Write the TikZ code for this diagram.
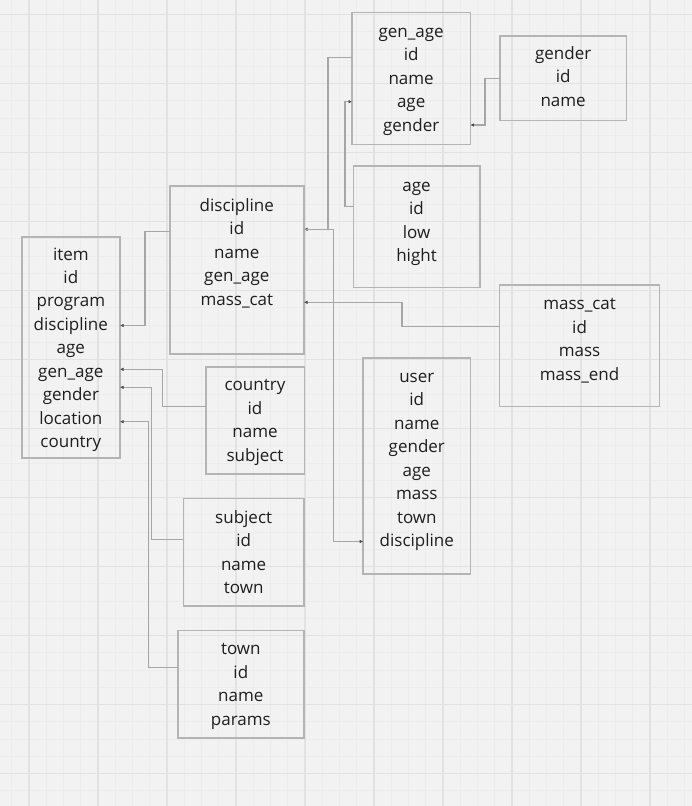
\documentclass[tikz,border=0pt]{standalone}
\usepackage{fontspec}
\setmainfont{Open Sans}
\usetikzlibrary{arrows.meta}
\definecolor{bg}{HTML}{F2F2F2}
\definecolor{gmin}{HTML}{ECECEC}
\definecolor{gmaj}{HTML}{E2E2E2}
\definecolor{boxc}{HTML}{B4B4B4}
\definecolor{linec}{HTML}{A6A6A6}
\definecolor{tipc}{HTML}{4A4A4A}
\definecolor{txt}{HTML}{1E1E1E}
\tikzset{
  erbox/.style={draw=boxc, line width=1.6pt, inner sep=0pt, outer sep=0pt},
  fld/.style={font=\fontsize{17}{20}\selectfont, text=txt, anchor=base, inner sep=0pt},
  conn/.style={draw=linec, line width=1.2pt, -{Latex[length=3.5pt,width=3.5pt,color=tipc]}},
}
% name, x1, y1, x2, y2, first baseline, fields
\newcommand\erbox[7]{%
  \node[erbox, minimum width={#4-#2}, minimum height={#5-#3}] (#1) at ({(#2+#4)/2},{(#3+#5)/2}) {};
  \foreach \fname [count=\i] in {#7}
    \node[fld] (#1-\i) at ({(#2+#4)/2},{#6+1+23.45*(\i-1)}) {\fname};
}
\begin{document}
\begin{tikzpicture}[x=1pt,y=-1pt]
\useasboundingbox (0,0) rectangle (692,806);
\fill[bg] (0,0) rectangle (692,806);
\begin{scope}
\clip (0,0) rectangle (692,806);
\foreach \k in {-2,...,39} \draw[gmin, line width=0.6pt] ({29+17.25*\k},0) -- ({29+17.25*\k},806);
\foreach \k in {-1,...,46} \draw[gmin, line width=0.6pt] (0,{14.3+17.25*\k}) -- (692,{14.3+17.25*\k});
\foreach \k in {0,...,9} \draw[gmaj, line width=1.2pt] ({29+69*\k},0) -- ({29+69*\k},806);
\foreach \k in {0,...,11} \draw[gmaj, line width=1.2pt] (0,{14.3+69*\k}) -- (692,{14.3+69*\k});
\end{scope}

\erbox{item}{21.7}{236.7}{120}{458}{259}{item,id,program,discipline,age,gen\_age,gender,location,country}
\erbox{discipline}{169.7}{185.7}{304}{353.7}{210.5}{discipline,id,name,gen\_age,mass\_cat}
\erbox{genage}{352}{12.3}{470.3}{144.3}{36.2}{gen\_age,id,name,age,gender}
\erbox{gender}{500}{36}{626.3}{120.3}{58.2}{gender,id,name}
\erbox{age}{353.3}{165.7}{479.7}{287.3}{190.5}{age,id,low,hight}
\erbox{masscat}{499.6}{284.7}{659.6}{406.3}{308.8}{mass\_cat,id,mass,mass\_end}
\erbox{country}{205.7}{366.7}{304.3}{474}{389.8}{country,id,name,subject}
\erbox{user}{363.2}{358}{470.4}{574}{381.5}{user,id,name,gender,age,mass,town,discipline}
\erbox{subject}{183.3}{498.3}{304}{606}{522.2}{subject,id,name,town}
\erbox{town}{177.7}{630.3}{304}{738}{653.8}{town,id,name,params}

\draw[conn] ([yshift=-45.8pt]discipline.north west) -- ++(-24.7,0) |- ([yshift=-88.8pt]item.north east);
\draw[conn] ([yshift=-45.5pt]genage.north west) -- ++(-24,0) |- ([yshift=-43.6pt]discipline.north east);
\draw[conn] ([yshift=-43.6pt]discipline.north east) -- ++(29.5,0) |- ([yshift=-183.5pt]user.north west);
\draw[conn] ([yshift=-41pt]age.north west) -- ++(-8.3,0) |- ([yshift=-89.4pt]genage.north west);
\draw[conn] ([yshift=-42.5pt]gender.north west) -- ++(-15,0) |- ([yshift=-112.7pt]genage.north east);
\draw[conn] ([yshift=-42pt]masscat.north west) -- ++(-97.6,0) |- ([yshift=-116.6pt]discipline.north east);
\draw[conn] ([yshift=-40pt]country.north west) -- ++(-43,0) |- ([yshift=-132.6pt]item.north east);
\draw[conn] ([yshift=-41.2pt]subject.north west) -- ++(-31.6,0) |- ([yshift=-150.6pt]item.north east);
\draw[conn] ([yshift=-37pt]town.north west) -- ++(-29.5,0) |- ([yshift=-185pt]item.north east);
\end{tikzpicture}
\end{document}
